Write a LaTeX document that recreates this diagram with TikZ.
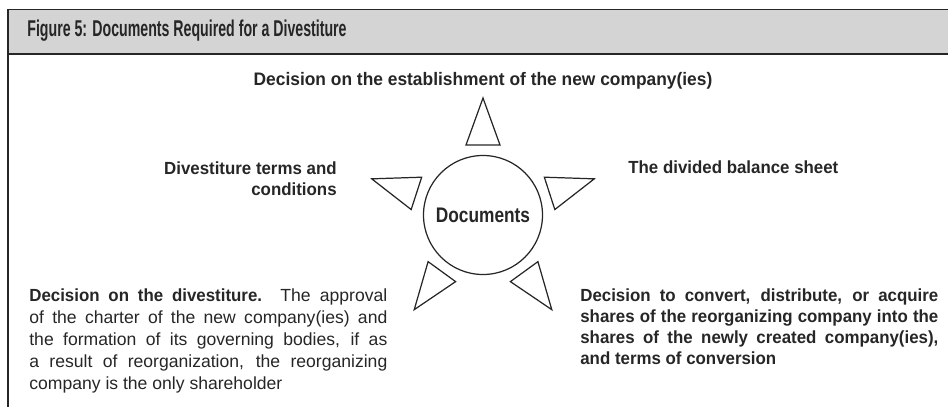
\documentclass[tikz,border=0pt]{standalone}
\usepackage{fontspec}
\setmainfont{Liberation Sans}[BoldFeatures={FakeStretch=0.96}]
\newfontfamily\headfont{Liberation Sans}[FakeStretch=0.62]
\newfontfamily\condfont{Liberation Sans}[FakeStretch=0.82]

\begin{document}
\begin{tikzpicture}[x=0.2mm,y=0.2mm,font=\fontsize{10}{12.6}\selectfont]
\tikzstyle{frame}=[line width=1.1pt,draw=black!85]
\tikzstyle{label}=[inner sep=0pt,text=black!85]
\tikzstyle{para}=[label,align=justify,anchor=north west,text width=71.6mm]
\tikzstyle{tri}=[line width=0.7pt,line join=miter,draw=black!85]
\useasboundingbox (0,0) rectangle (948,406);
% header
\fill[black!17] (8,396.5) rectangle (948,352);
\draw[frame] (948,396.5) -- (8,396.5) -- (8,-2);
\draw[frame] (8,352) -- (948,352);
\node[label,anchor=base west,font=\headfont\bfseries\fontsize{13}{15}\selectfont] (title) at (27,369) {Figure 5: Documents Required for a Divestiture};
% centre
\node[circle,draw=black!85,line width=0.7pt,minimum size=23.8mm,inner sep=0pt,text=black!85,font=\condfont\bfseries\fontsize{12}{14}\selectfont] (docs) at (483,191) {Documents};
% triangles
\foreach \a in {90,162,18,234,306} {
\begin{scope}[shift={(docs.center)},rotate=\a]
\draw[tri] (117,0) -- (70,17) -- (70,-17) -- cycle;
\end{scope}
}
% labels
\node[label,anchor=base,font=\bfseries\fontsize{10.3}{12}\selectfont] (establish) at (483,320) {Decision on the establishment of the new company(ies)};
\node[label,anchor=north east,align=right,font=\bfseries] (terms) at (337,245) {Divestiture terms and\\conditions};
\node[label,anchor=base west,font=\bfseries] (balance) at (628,232) {The divided balance sheet};
\node[para] (divest) at (29,118) {\textbf{Decision on the divestiture.}\ \ The approval\linebreak of the charter of the new company(ies) and\linebreak the formation of its governing bodies, if as\linebreak a result of reorganization, the reorganizing\linebreak company is the only shareholder};
\node[para,font=\bfseries] (convert) at (580,118) {Decision to convert, distribute, or acquire\linebreak shares of the reorganizing company into the\linebreak shares of the newly created company(ies),\linebreak and terms of conversion};
\end{tikzpicture}
\end{document}
